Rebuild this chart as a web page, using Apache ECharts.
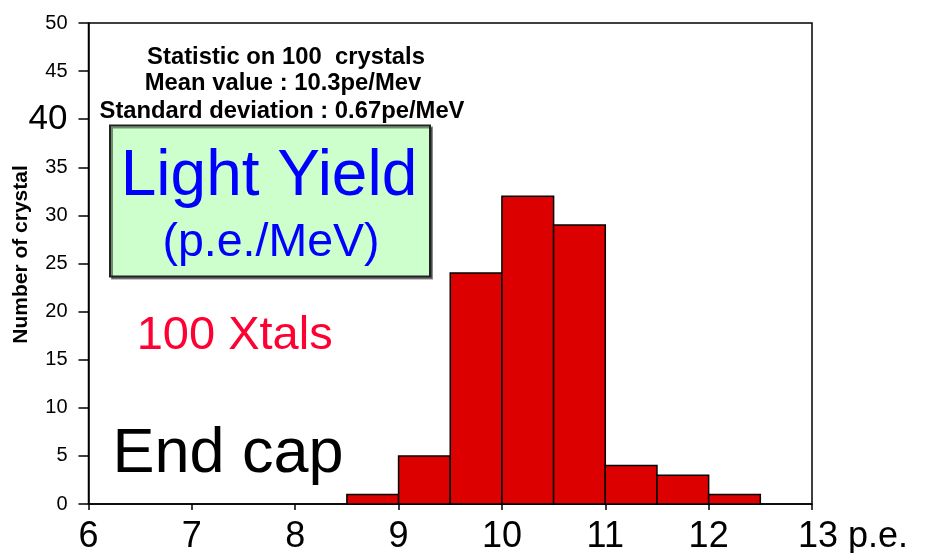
<!DOCTYPE html>
<html>
<head>
<meta charset="utf-8">
<script src="https://cdn.jsdelivr.net/npm/echarts@6/dist/echarts.min.js"></script>
<style>html,body{margin:0;padding:0;background:#fff}#c{width:926px;height:553px}</style>
</head>
<body>
<div id="c"></div>
<script>
// Histogram bins (p.e./MeV) and counts
const binLow  = [8.5, 9, 9.5, 10, 10.5, 11, 11.5, 12];
const binHigh = [9, 9.5, 10, 10.5, 11, 11.5, 12, 12.5];
const counts  = [1, 5, 24, 32, 29, 4, 3, 1];
const xTicks  = [6, 7, 8, 9, 10, 11, 12, 13];
const yTicks  = [0, 5, 10, 15, 20, 25, 30, 35, 40, 45, 50];
const statLines = ['Statistic on 100  crystals', 'Mean value : 10.3pe/Mev', 'Standard deviation : 0.67pe/MeV'];

const FONT = '"Liberation Sans", Arial, sans-serif';
const chart = echarts.init(document.getElementById('c'));

const data = binLow.map((lo, i) => [lo, binHigh[i], counts[i]]);

chart.setOption({
  animation: false,
  backgroundColor: '#fff',
  grid: { left: 88.5, right: 114, top: 23, bottom: 49, containLabel: false, outerBoundsMode: 'none',
          show: true, borderColor: '#000', borderWidth: 1.5, backgroundColor: 'transparent' },
  xAxis: {
    type: 'value', min: xTicks[0], max: xTicks[xTicks.length - 1], interval: 1,
    splitLine: { show: false },
    axisLine: { lineStyle: { color: '#000', width: 1.5 } },
    axisTick: { show: true, length: 6, lineStyle: { color: '#000', width: 1.5 } },
    axisLabel: {
      color: '#000', fontSize: 36, fontFamily: FONT, margin: 15, hideOverlap: false,
      formatter: v => v === 13 ? '{last|13 p.e.}' : String(v),
      rich: { last: { fontSize: 36, fontFamily: FONT, color: '#000', padding: [0, 0, 0, 82] } }
    }
  },
  yAxis: {
    type: 'value', min: yTicks[0], max: yTicks[yTicks.length - 1], interval: 5,
    splitLine: { show: false },
    name: 'Number of crystal', nameLocation: 'middle', nameGap: 57, nameMoveOverlap: false,
    nameTextStyle: { color: '#000', fontSize: 21, fontWeight: 'bold', fontFamily: FONT, padding: [0, 0, 0, 18] },
    axisLine: { show: true, lineStyle: { color: '#000', width: 1.5 } },
    axisTick: { show: true, length: 10, lineStyle: { color: '#000', width: 1.5 } },
    axisLabel: {
      color: '#000', fontSize: 20, fontFamily: FONT, margin: 21,
      formatter: v => v === 40 ? '{big|40}' : String(v),
      rich: { big: { fontSize: 35, fontFamily: FONT, color: '#000', padding: [0, 0, 0, 0] } }
    }
  },
  series: [{
    type: 'custom',
    data: data,
    encode: { x: [0, 1], y: 2 },
    renderItem: function (params, api) {
      const p0 = api.coord([api.value(0), api.value(2)]);
      const p1 = api.coord([api.value(1), 0]);
      return {
        type: 'rect',
        shape: { x: p0[0], y: p0[1], width: p1[0] - p0[0], height: p1[1] - p0[1] },
        style: { fill: '#dd0000', stroke: '#000', lineWidth: 1.5 }
      };
    }
  }],
  graphic: [
    { type: 'rect', shape: { x: 110, y: 125.5, width: 320, height: 151 },
      style: { fill: '#ccffcc', stroke: '#222', lineWidth: 2, shadowColor: 'rgba(0,0,0,0.45)', shadowOffsetX: 2, shadowOffsetY: 2, shadowBlur: 0 }, z: 10 },
    { type: 'text', x: 286, y: 57.2, z: 11, style: { text: statLines[0], font: 'bold 23.8px ' + FONT, fill: '#000', align: 'center', verticalAlign: 'middle' } },
    { type: 'text', x: 283, y: 83.9, z: 11, style: { text: statLines[1], font: 'bold 23.8px ' + FONT, fill: '#000', align: 'center', verticalAlign: 'middle' } },
    { type: 'text', x: 282, y: 111.2, z: 11, style: { text: statLines[2], font: 'bold 23.8px ' + FONT, fill: '#000', align: 'center', verticalAlign: 'middle' } },
    { type: 'text', x: 269, y: 177.5, z: 11, style: { text: 'Light Yield', font: '64px ' + FONT, fill: '#0000ff', align: 'center', verticalAlign: 'middle' } },
    { type: 'text', x: 271, y: 243.6, z: 11, style: { text: '(p.e./MeV)', font: '46.5px ' + FONT, fill: '#0000ff', align: 'center', verticalAlign: 'middle' } },
    { type: 'text', x: 234.7, y: 336.4, z: 11, style: { text: '100 Xtals', font: '47px ' + FONT, fill: '#ff0033', align: 'center', verticalAlign: 'middle' } },
    { type: 'text', x: 228, y: 454.8, z: 11, style: { text: 'End cap', font: '63px ' + FONT, fill: '#000', align: 'center', verticalAlign: 'middle' } }
  ]
});
</script>
</body>
</html>
